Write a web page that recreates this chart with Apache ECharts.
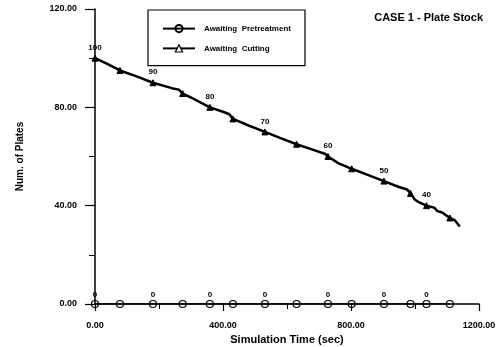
<!DOCTYPE html>
<html>
<head>
<meta charset="utf-8">
<script src="https://cdn.jsdelivr.net/npm/echarts@6/dist/echarts.min.js"></script>
<style>html,body{margin:0;padding:0;background:#fff}#c{width:500px;height:347px}</style>
</head>
<body>
<div id="c"></div>
<script>
// ---- data ----
const sampleTimes = [0, 78, 181, 274, 359, 431, 531, 630, 728, 802, 903, 986, 1036, 1109];
const labelTimes = [0, 181, 359, 531, 728, 903, 1036];
const pretreatValues = [0, 0, 0, 0, 0, 0, 0, 0, 0, 0, 0, 0, 0, 0];
const cutPathTime = [0, 40, 78, 130, 181, 240, 262, 274, 300, 359, 400, 420, 431, 480, 531, 580, 630, 680, 720, 728, 760, 802, 850, 903, 950, 975, 986, 1000, 1015, 1036, 1060, 1070, 1085, 1109, 1125, 1140];
const cutPathValue = [100, 97.6, 95, 92.6, 90, 87.8, 87.2, 85.6, 84, 80, 78.2, 77.2, 75.3, 72.6, 70, 67.5, 65, 62.8, 61, 60, 57.3, 55, 52.6, 50, 47.6, 46.6, 45, 42.4, 41.2, 40, 39.2, 37.8, 37.2, 35, 34, 31.5];
const seriesNames = ['Awaiting  Pretreatment', 'Awaiting  Cutting'];
const xTicks = [0, 400, 800, 1200];
const yTicks = [0, 40, 80, 120];

const FONT = "'Liberation Sans', Arial, sans-serif";
const chart = echarts.init(document.getElementById('c'), null, {renderer: 'canvas'});

const cutData = cutPathTime.map((t, i) => {
  const isSample = sampleTimes.indexOf(t) >= 0;
  const item = {value: [t, cutPathValue[i]], symbol: isSample ? 'triangle' : 'none'};
  if (labelTimes.indexOf(t) >= 0) {
    item.label = {show: true, formatter: String(Math.round(cutPathValue[i]))};
  }
  return item;
});
const preData = sampleTimes.map((t, i) => {
  const item = {value: [t, pretreatValues[i]]};
  if (labelTimes.indexOf(t) >= 0) item.label = {show: true, formatter: String(pretreatValues[i])};
  return item;
});

chart.setOption({
  animation: false,
  backgroundColor: '#fff',
  textStyle: {fontFamily: FONT},
  title: {
    text: 'CASE 1 - Plate Stock', right: 12, top: 7,
    textStyle: {fontSize: 11, fontWeight: 'bold', color: '#000', fontFamily: FONT}
  },
  legend: {
    orient: 'vertical', left: 148, top: 10,
    padding: [14, 14, 13, 14], itemGap: 11, itemWidth: 32, itemHeight: 9,
    borderColor: '#000', borderWidth: 1.2,
    textStyle: {fontSize: 8, fontWeight: 'bold', color: '#000', fontFamily: FONT, padding: [0, 0, 0, 4]},
    data: [
      {name: seriesNames[0]},
      {name: seriesNames[1], itemStyle: {color: '#fff', borderColor: '#000', borderWidth: 1.2}}
    ]
  },
  grid: {left: 95, right: 21, top: 9, bottom: 43, containLabel: false, outerBoundsMode: 'none'},
  xAxis: {
    type: 'value', min: 0, max: 1200, interval: 400,
    name: 'Simulation Time (sec)', nameLocation: 'middle', nameGap: 29,
    nameTextStyle: {fontSize: 11, fontWeight: 'bold', color: '#000', fontFamily: FONT},
    axisLine: {show: true, onZero: false, lineStyle: {color: '#000', width: 1.5}},
    axisTick: {show: true, length: 7, lineStyle: {color: '#000', width: 1.2}},
    minorTick: {show: true, splitNumber: 2, length: 5, lineStyle: {color: '#000', width: 1}},
    splitLine: {show: false},
    axisLabel: {margin: 17, fontSize: 9, fontWeight: 'bold', color: '#000', fontFamily: FONT,
      formatter: v => xTicks.indexOf(v) >= 0 ? v.toFixed(2) : ''}
  },
  yAxis: {
    type: 'value', min: 0, max: 120, interval: 40,
    name: 'Num. of Plates', nameLocation: 'middle', nameGap: 70, nameRotate: 90,
    nameTextStyle: {fontSize: 10, fontWeight: 'bold', color: '#000', fontFamily: FONT},
    axisLine: {show: true, onZero: false, lineStyle: {color: '#000', width: 1.5}},
    axisTick: {show: true, length: 10, lineStyle: {color: '#000', width: 1.2}},
    minorTick: {show: true, splitNumber: 2, length: 6, lineStyle: {color: '#000', width: 1}},
    splitLine: {show: false},
    axisLabel: {margin: 18, fontSize: 9, fontWeight: 'bold', color: '#000', fontFamily: FONT,
      formatter: v => yTicks.indexOf(v) >= 0 ? v.toFixed(2) : ''}
  },
  series: [
    {
      name: seriesNames[0], type: 'line', data: preData,
      symbol: 'circle', symbolSize: 7, showAllSymbol: true,
      lineStyle: {color: '#000', width: 1.5},
      itemStyle: {color: 'rgba(255,255,255,0)', borderColor: '#000', borderWidth: 1.2},
      label: {position: 'top', distance: 1, fontSize: 8, fontWeight: 'bold', color: '#000', fontFamily: FONT},
      z: 3
    },
    {
      name: seriesNames[1], type: 'line', data: cutData,
      symbol: 'triangle', symbolSize: 6, showAllSymbol: true,
      lineStyle: {color: '#000', width: 2.5},
      itemStyle: {color: '#000', borderColor: '#000', borderWidth: 1},
      label: {position: 'top', distance: 3, fontSize: 8, fontWeight: 'bold', color: '#000', fontFamily: FONT},
      z: 3
    }
  ]
});
</script>
</body>
</html>
